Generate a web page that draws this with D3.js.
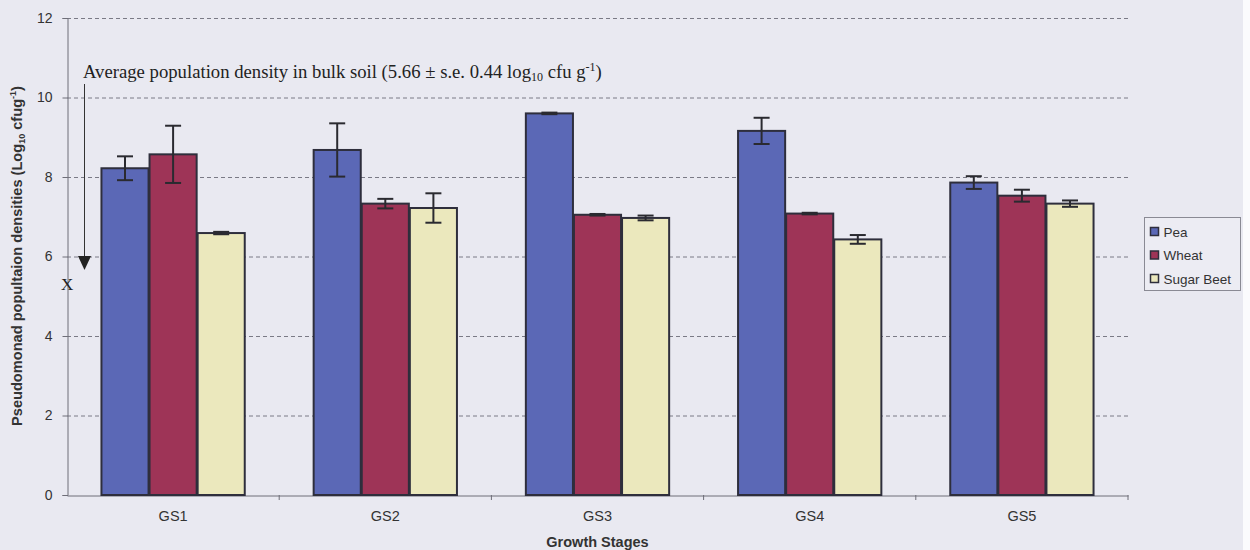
<!DOCTYPE html>
<html>
<head>
<meta charset="utf-8">
<script src="https://cdn.jsdelivr.net/npm/d3@7"></script>
<style>
  html, body { margin: 0; padding: 0; background: #e9e9f1; }
  svg { display: block; }
</style>
</head>
<body>
<svg id="chart" width="1250" height="550"></svg>
<script>
// Growth stages and crop series (log10 cfu/g)
const stages = ["GS1", "GS2", "GS3", "GS4", "GS5"];
const crops = ["Pea", "Wheat", "Sugar Beet"];
const peaMean = [8.22, 8.68, 9.60, 9.16, 7.86];
const peaErr = [0.30, 0.67, 0.02, 0.33, 0.16];
const wheatMean = [8.57, 7.33, 7.05, 7.08, 7.53];
const wheatErr = [0.72, 0.12, 0.02, 0.02, 0.15];
const beetMean = [6.59, 7.22, 6.97, 6.43, 7.33];
const beetErr = [0.03, 0.37, 0.06, 0.11, 0.08];
const yTicks = [0, 2, 4, 6, 8, 10, 12];
const bulkSoilMean = 5.66;

const colors = ["#5b68b6", "#9e3457", "#ebe8bd"];
const sans = "Arial, 'Liberation Sans', sans-serif";
const serif = "'Liberation Serif', 'Times New Roman', serif";

const svg = d3.select("#chart");
const W = 1250, H = 550;
const m = { left: 67, right: 1128, top: 18, bottom: 495 };

svg.append("rect").attr("width", W).attr("height", H).attr("fill", "#e9e9f1");
svg.append("rect").attr("x", 1243).attr("width", 7).attr("height", H).attr("fill", "#fbfbfd");

const x0 = d3.scaleBand().domain(stages).range([m.left, m.right]).paddingInner(0.32).paddingOuter(0.16);
const x1 = d3.scaleBand().domain(crops).range([0, x0.bandwidth()]);
const y = d3.scaleLinear().domain([0, 12]).range([m.bottom, m.top]);

// gridlines
svg.append("g").selectAll("line").data(yTicks.filter(t => t > 0)).join("line")
  .attr("x1", m.left).attr("x2", m.right)
  .attr("y1", d => y(d) + 0.5).attr("y2", d => y(d) + 0.5)
  .attr("stroke", "#7a7a86").attr("stroke-width", 1).attr("stroke-dasharray", "4,3");

// y axis
const yAxis = svg.append("g").attr("transform", `translate(${m.left + 0.5},0)`)
  .call(d3.axisLeft(y).tickValues(yTicks).tickSize(5).tickPadding(10));
yAxis.select(".domain").attr("stroke", "#6e6e78");
yAxis.selectAll(".tick line").attr("stroke", "#6e6e78");
yAxis.selectAll("text").attr("font-family", sans).attr("font-size", 14).attr("fill", "#333");

// x axis
const xAxis = svg.append("g").attr("transform", `translate(0,${m.bottom + 0.5})`)
  .call(d3.axisBottom(x0).tickSize(0).tickPadding(15));
xAxis.select(".domain").attr("stroke", "#6e6e78");
xAxis.selectAll("text").attr("font-family", sans).attr("font-size", 14.5).attr("fill", "#333");
// ticks between stage groups
svg.append("g").selectAll("line").data(d3.range(1, stages.length + 1)).join("line")
  .attr("x1", i => m.left + i * (m.right - m.left) / stages.length)
  .attr("x2", i => m.left + i * (m.right - m.left) / stages.length)
  .attr("y1", m.bottom).attr("y2", m.bottom + 5)
  .attr("stroke", "#6e6e78");

// bars
const series = [
  { name: "Pea", mean: peaMean, err: peaErr },
  { name: "Wheat", mean: wheatMean, err: wheatErr },
  { name: "Sugar Beet", mean: beetMean, err: beetErr }
];
const rows = [];
series.forEach((s, si) => stages.forEach((st, i) =>
  rows.push({ stage: st, crop: s.name, v: s.mean[i], e: s.err[i], c: colors[si] })));

svg.append("g").selectAll("rect").data(rows).join("rect")
  .attr("x", d => x0(d.stage) + x1(d.crop) + 0.5)
  .attr("y", d => y(d.v))
  .attr("width", x1.bandwidth() - 1)
  .attr("height", d => y(0) - y(d.v))
  .attr("fill", d => d.c)
  .attr("stroke", "#2e2e3c").attr("stroke-width", 2);

// error bars
const eb = svg.append("g").attr("stroke", "#2a2a30").attr("stroke-width", 2);
rows.forEach(d => {
  const cx = x0(d.stage) + x1(d.crop) + x1.bandwidth() / 2;
  eb.append("line").attr("x1", cx).attr("x2", cx).attr("y1", y(d.v + d.e)).attr("y2", y(d.v - d.e));
  [d.v + d.e, d.v - d.e].forEach(v =>
    eb.append("line").attr("x1", cx - 8).attr("x2", cx + 8).attr("y1", y(v)).attr("y2", y(v)));
});

// bulk soil annotation
const ann = svg.append("text").attr("x", 83).attr("y", 78)
  .attr("font-family", serif).attr("font-size", 18.7).attr("fill", "#222");
ann.append("tspan").text("Average population density in bulk soil (5.66 \u00b1 s.e. 0.44 log");
ann.append("tspan").attr("font-size", 12).attr("dy", 3).text("10");
ann.append("tspan").attr("dy", -3).text(" cfu g");
ann.append("tspan").attr("font-size", 12).attr("dy", -7).text("-1");
ann.append("tspan").attr("dy", 7).text(")");

svg.append("line").attr("x1", 84.5).attr("x2", 84.5).attr("y1", 84).attr("y2", y(bulkSoilMean) - 10)
  .attr("stroke", "#333").attr("stroke-width", 1);
svg.append("path")
  .attr("d", `M${78},${y(bulkSoilMean) - 14} L${91},${y(bulkSoilMean) - 14} L${84.5},${y(bulkSoilMean)} Z`)
  .attr("fill", "#222");
svg.append("text").attr("x", 61).attr("y", 290)
  .attr("font-family", serif).attr("font-size", 17).attr("fill", "#222").text("X");

// axis titles
const yl = svg.append("text")
  .attr("transform", `translate(22,256) rotate(-90)`)
  .attr("text-anchor", "middle")
  .attr("font-family", sans).attr("font-size", 14.6).attr("font-weight", "bold").attr("fill", "#333");
yl.append("tspan").text("Pseudomonad popultaion densities (Log");
yl.append("tspan").attr("font-size", 9).attr("dy", 3).text("10");
yl.append("tspan").attr("dy", -3).text(" cfug");
yl.append("tspan").attr("font-size", 9).attr("dy", -6).text("-1");
yl.append("tspan").attr("dy", 6).text(")");

svg.append("text").attr("x", (m.left + m.right) / 2).attr("y", 547)
  .attr("text-anchor", "middle")
  .attr("font-family", sans).attr("font-size", 14.5).attr("font-weight", "bold").attr("fill", "#333")
  .text("Growth Stages");

// legend
const lg = svg.append("g").attr("transform", "translate(1144.5,217.5)");
lg.append("rect").attr("width", 96).attr("height", 73)
  .attr("fill", "#ececf3").attr("stroke", "#8a8a94");
crops.forEach((c, i) => {
  const gy = 14 + i * 23.5;
  lg.append("rect").attr("x", 6).attr("y", gy - 4).attr("width", 8).attr("height", 8)
    .attr("fill", colors[i]).attr("stroke", "#2e2e3c").attr("stroke-width", 1.5);
  lg.append("text").attr("x", 19).attr("y", gy + 5)
    .attr("font-family", sans).attr("font-size", 13.5).attr("fill", "#333").text(c);
});
</script>
</body>
</html>
